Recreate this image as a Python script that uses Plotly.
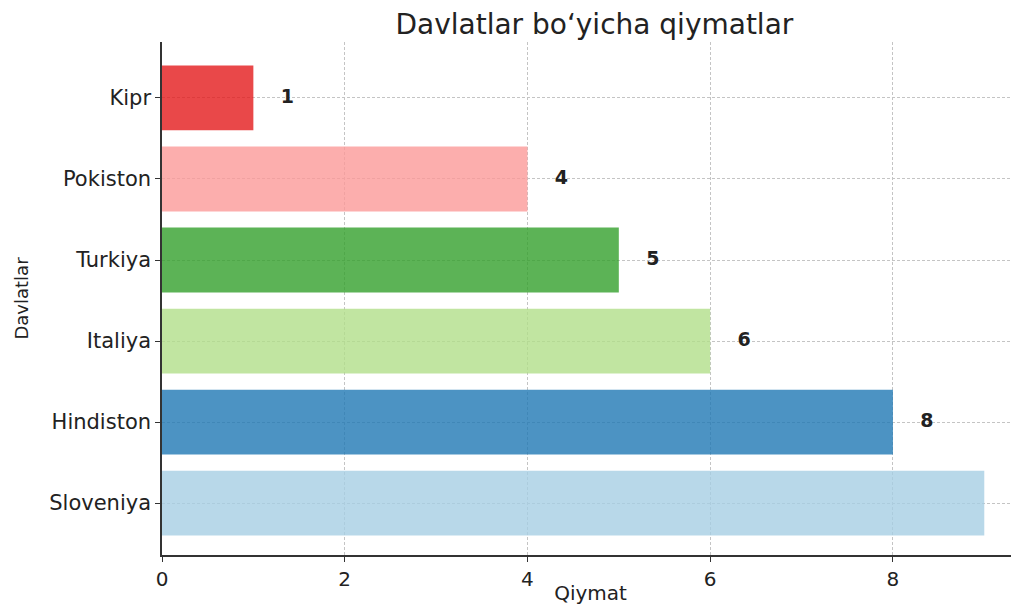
import plotly.graph_objects as go

countries = ["Sloveniya", "Hindiston", "Italiya", "Turkiya", "Pokiston", "Kipr"]
values = [9, 8, 6, 5, 4, 1]
colors = ["#a6cee3", "#1f78b4", "#b2df8a", "#33a02c", "#fb9a99", "#e31a1c"]
x_ticks = [0, 2, 4, 6, 8]

title = "Davlatlar bo‘yicha qiymatlar"
x_title = "Qiymat"
y_title = "Davlatlar"

font_family = "DejaVu Sans, Verdana, sans-serif"

fig = go.Figure()
fig.add_trace(go.Bar(
    y=countries, x=values, orientation="h",
    marker=dict(color=colors, opacity=0.8, line=dict(width=0)),
    width=0.8, showlegend=False, hoverinfo="skip",
))
fig.add_trace(go.Scatter(
    y=countries, x=[v + 0.3 for v in values], mode="text",
    text=[f"<b>{v}</b>" for v in values], textposition="middle right",
    textfont=dict(family=font_family, size=19, color="#222222"),
    cliponaxis=False, showlegend=False, hoverinfo="skip",
))

# the page body adds an 8 px margin, so the figure is 8 px smaller and margins shifted
fig.update_layout(
    width=1011, height=597,
    margin=dict(l=154, r=0, t=34, b=50),
    paper_bgcolor="white", plot_bgcolor="white",
    font=dict(family=font_family, size=20, color="#222222"),
    title=dict(text=title, x=0.58, xanchor="center", y=0.973, yanchor="middle",
               font=dict(size=28, color="#222222")),
)
fig.update_xaxes(
    range=[0, 9.38], tickvals=x_ticks, ticktext=[str(t) for t in x_ticks],
    showgrid=True, gridcolor="#c4c4c4", griddash="3px,2px", gridwidth=1,
    showline=True, linecolor="#333333", linewidth=1.5,
    ticks="outside", ticklen=5, tickcolor="#333333",
    zeroline=False, automargin=False,
    title=dict(text=x_title, standoff=6, font=dict(size=20)),
    tickfont=dict(size=20),
)
fig.update_yaxes(
    type="category", categoryorder="array", categoryarray=countries,
    range=[-0.64, 5.69],
    showgrid=True, gridcolor="#c4c4c4", griddash="3px,2px", gridwidth=1,
    showline=True, linecolor="#333333", linewidth=1.5,
    ticks="outside", ticklen=5, tickcolor="#333333",
    zeroline=False, automargin=False,
    title=dict(text=y_title, standoff=16, font=dict(size=18)),
    tickfont=dict(size=21),
)

fig.write_html("out.html")
